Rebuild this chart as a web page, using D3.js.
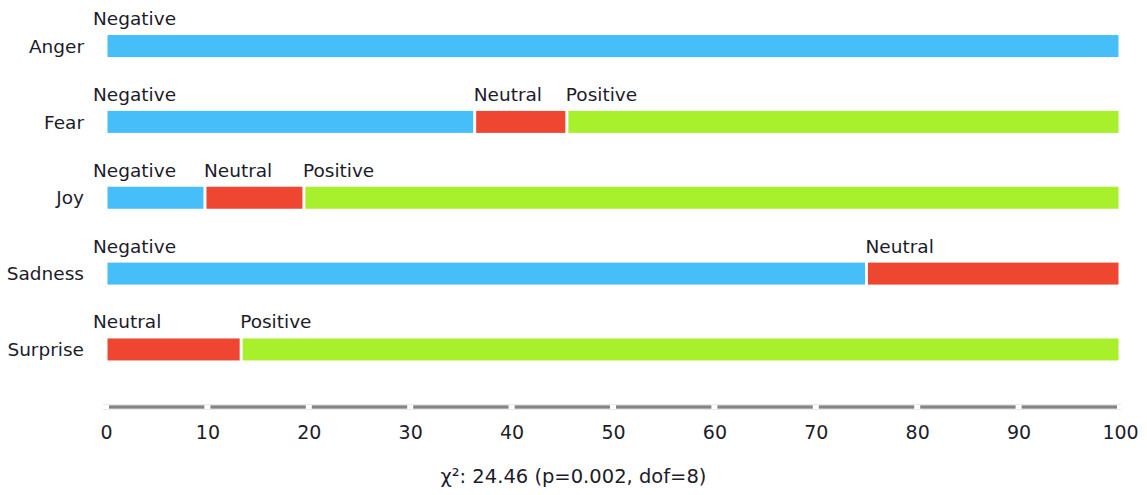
<!DOCTYPE html>
<html>
<head>
<meta charset="utf-8">
<script src="https://cdn.jsdelivr.net/npm/d3@7"></script>
<style>
  html, body { margin: 0; padding: 0; background: #fff; }
  svg { display: block; }
  text { font-family: "DejaVu Sans", Verdana, sans-serif; fill: #1c1c2a; }
</style>
</head>
<body>
<svg id="chart" width="1147" height="495"></svg>
<script>
const categories = ["Anger", "Fear", "Joy", "Sadness", "Surprise"];
const seriesNames = ["Negative", "Neutral", "Positive"];
const negativeValues = [100, 36.36, 9.76, 75, 0];
const neutralValues = [0, 9.09, 9.76, 25, 13.33];
const positiveValues = [0, 54.55, 80.48, 0, 86.67];
const tickValues = [0, 10, 20, 30, 40, 50, 60, 70, 80, 90, 100];
const statText = "χ²: 24.46 (p=0.002, dof=8)";

const colors = { Negative: "#46BEF9", Neutral: "#EE4630", Positive: "#A8F02B" };
const W = 1147, H = 495;
const svg = d3.select("#chart");

const x = d3.scaleLinear().domain([0, 100]).range([106, 1120]);
const y = d3.scaleBand().domain(categories).range([8.5, 387]).paddingInner(0.71).paddingOuter(0.35);

const seriesValues = [negativeValues, neutralValues, positiveValues];
const rows = categories.map((c, i) => {
  let acc = 0;
  const segs = [];
  seriesNames.forEach((s, k) => {
    const v = seriesValues[k][i];
    if (v > 0) {
      segs.push({ cat: c, name: s, start: acc, end: acc + v });
    }
    acc += v;
  });
  return { cat: c, segs };
});

const bh = y.bandwidth();

// category labels
svg.append("g").selectAll("text").data(categories).join("text")
  .attr("x", 84)
  .attr("y", d => y(d) + bh / 2)
  .attr("dy", "0.36em")
  .attr("text-anchor", "end")
  .attr("font-size", 18.5)
  .text(d => d);

const allSegs = rows.flatMap(r => r.segs);

svg.append("g").selectAll("rect").data(allSegs).join("rect")
  .attr("x", d => x(d.start) + 1.5)
  .attr("y", d => y(d.cat))
  .attr("width", d => x(d.end) - x(d.start) - 3)
  .attr("height", bh)
  .attr("fill", d => colors[d.name]);

svg.append("g").selectAll("text").data(allSegs).join("text")
  .attr("x", d => d.start === 0 ? x(0) - 13 : x(d.start) - 1)
  .attr("y", d => y(d.cat) - 10)
  .attr("font-size", 18.5)
  .text(d => d.name);

// axis
const axisY = 407;
const ag = svg.append("g");
ag.append("line").attr("x1", x(0) - 3).attr("x2", x(100) + 1).attr("y1", axisY).attr("y2", axisY)
  .attr("stroke", "#d4d4d4").attr("stroke-width", 5);
ag.append("line").attr("x1", x(0) - 3).attr("x2", x(100) + 1).attr("y1", axisY).attr("y2", axisY)
  .attr("stroke", "#858585").attr("stroke-width", 3);
ag.selectAll("rect.gap").data(tickValues).join("rect").attr("class", "gap")
  .attr("x", d => x(d) - 3).attr("y", axisY - 2).attr("width", 6).attr("height", 4)
  .attr("fill", "#fff");

const axis = d3.axisBottom(x).tickValues(tickValues).tickSize(0).tickPadding(0).tickFormat(d3.format("d"));
const axG = svg.append("g").attr("transform", `translate(0,${axisY + 14})`).call(axis);
axG.select(".domain").remove();
axG.selectAll("text").attr("font-size", 19).attr("font-family", '"DejaVu Sans", Verdana, sans-serif')
  .attr("fill", "#1c1c2a").attr("dy", "0.95em");

svg.append("text")
  .attr("x", W / 2)
  .attr("y", 483)
  .attr("text-anchor", "middle")
  .attr("font-size", 19.5)
  .text(statText);
</script>
</body>
</html>
